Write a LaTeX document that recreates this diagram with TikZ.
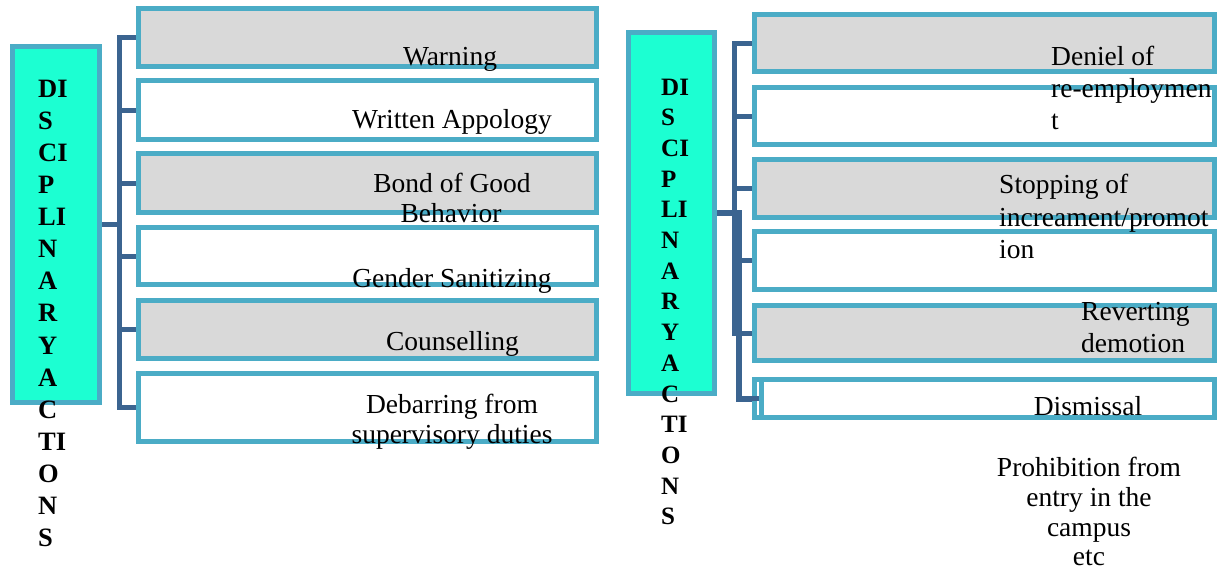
\documentclass[tikz,border=0pt]{standalone}
\usepackage{fontspec}
\setmainfont{Liberation Serif}
\usetikzlibrary{backgrounds}
\definecolor{edge}{HTML}{4BACC6}
\definecolor{trunk}{HTML}{3B6490}
\definecolor{aqua}{HTML}{1CFFD2}
\definecolor{shade}{HTML}{D9D9D9}
\begin{document}
\begin{tikzpicture}[x=1pt,y=-1pt,
  itembox/.style={draw=edge, line width=5pt, inner sep=0pt, fill=white},
  shaded/.style={itembox, fill=shade},
  lbox/.style={minimum width=458pt},
  rbox/.style={minimum width=460pt},
  headbox/.style={draw=edge, line width=5pt, fill=aqua, inner sep=0pt},
  conn/.style={draw=trunk, line width=5pt},
  txt/.style={inner sep=0pt, anchor=base, font=\fontsize{27.5}{31}\selectfont},
  txtl/.style={txt, anchor=base west},
  letterL/.style={inner sep=0pt, anchor=base west, font=\bfseries\fontsize{26.5}{30}\selectfont},
  letterR/.style={inner sep=0pt, anchor=base west, font=\bfseries\fontsize{25}{29}\selectfont}]
\useasboundingbox (0,0) rectangle (1224,571);

% ---- left column ----
\node[headbox, minimum width=87.5pt, minimum height=356pt] (cL) at (55.75,224.5) {};
\node[shaded,   lbox, minimum height=58pt] (L1) at (367.5,37.5) {};
\node[itembox,  lbox, minimum height=59pt] (L2) at (367.5,110) {};
\node[shaded,   lbox, minimum height=59pt] (L3) at (367.5,183) {};
\node[itembox,  lbox, minimum height=57pt] (L4) at (367.5,256) {};
\node[shaded,   lbox, minimum height=58pt] (L5) at (367.5,329.5) {};
\node[itembox,  lbox, minimum height=68pt] (L6) at (367.5,407.5) {};

% ---- right column ----
\node[headbox, minimum width=86pt, minimum height=361pt] (cR) at (671.5,213) {};
\node[shaded,   rbox, minimum height=57pt] (R1) at (984.5,43) {};
\node[itembox,  rbox, minimum height=57pt] (R2) at (984.5,116) {};
\node[shaded,   rbox, minimum height=58pt] (R3) at (984.5,188.5) {};
\node[itembox,  rbox, minimum height=58pt] (R4) at (984.5,260.5) {};
\node[shaded,   rbox, minimum height=55pt] (R5) at (984.5,333) {};
\node[itembox,  rbox, minimum height=38pt] (R6) at (984.5,398.5) {};

% trunk positions
\coordinate (tL) at (119,0);
\coordinate (t1) at (734.5,0);
\coordinate (t2) at (739,0);
\coordinate (R6edge) at (761.5,0);
\coordinate (R6end) at (759,398.5);

\begin{pgfonlayer}{background}
  % left bracket
  \draw[conn] (L1.west) -| (tL |- L6.west) -- (L6.west);
  \foreach \b in {L2,L3,L4,L5} \draw[conn] (\b.west) -- (\b.west -| tL);
  \draw[conn] (cL.east) -- (cL.east -| tL);
  % right bracket
  \draw[conn] (R1.west) -| (t1 |- R5.west) -- (R5.west);
  \foreach \b in {R2,R3} \draw[conn] (\b.west) -- (\b.west -| t1);
  \draw[conn, line width=6pt] (cR.east) -| (t2 |- R6.west) -- (R6.west);
  \draw[conn] (R4.west) -- (R4.west -| t2);
\end{pgfonlayer}
\draw[conn] (R6.west) -- (R6end);
\draw[draw=edge, line width=5pt] (R6.north -| R6edge) -- (R6.south -| R6edge);

% ---- vertical headings ----
\foreach \t [count=\i from 0] in {DI,S,CI,P,LI,N,A,R,Y,A,C,TI,O,N,S}
  \node[letterL] (hl\i) at (38,97+32.14*\i) {\t};
\foreach \t [count=\i from 0] in {DI,S,CI,P,LI,N,A,R,Y,A,C,TI,O,N,S}
  \node[letterR] (hr\i) at (661,95+30.71*\i) {\t};

% ---- left labels ----
\node[txt] (a1) at (450,65) {Warning};
\node[txt] (a2) at (452,128) {Written Appology};
\node[txt] (a3) at (452,192) {Bond of Good};
\node[txt] (a3b) at (451,222) {Behavior};
\node[txt] (a4) at (452,287) {Gender Sanitizing};
\node[txt] (a5) at (452.5,350) {Counselling};
\node[txt] (a6) at (452,413) {Debarring from};
\node[txt] (a6b) at (452,443) {supervisory duties};

% ---- right labels ----
\node[txtl] (b1) at (1051,65) {Deniel of};
\node[txtl] (b1b) at (1051,97) {re-employmen};
\node[txtl] (b1c) at (1051,129) {t};
\node[txtl] (b2) at (999,193) {Stopping of};
\node[txtl] (b2b) at (999,226) {increament/promot};
\node[txtl] (b2c) at (999,258) {ion};
\node[txtl] (b3) at (1081,320) {Reverting};
\node[txtl] (b3b) at (1081,352) {demotion};
\node[txt] (b4) at (1088,415) {Dismissal};
\node[txt] (b5) at (1089,476) {Prohibition from};
\node[txt] (b5b) at (1089,506) {entry in the};
\node[txt] (b5c) at (1089,536) {campus};
\node[txt] (b5d) at (1089,565) {etc};
\end{tikzpicture}
\end{document}
